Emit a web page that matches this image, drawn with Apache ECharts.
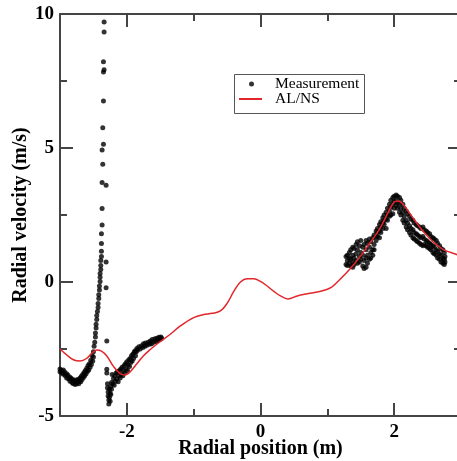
<!DOCTYPE html>
<html>
<head>
<meta charset="utf-8">
<script src="https://cdn.jsdelivr.net/npm/echarts@6/dist/echarts.min.js"></script>
<style>
html, body { margin: 0; padding: 0; background: #fff; }
#main { width: 457px; height: 461px; }
</style>
</head>
<body>
<div id="main"></div>
<script type="text/javascript">
// measured points, [radial position (m), radial velocity (m/s)]
var measTrough = [
    [-3.0,-3.25],[-3.0,-3.35],[-2.98,-3.3],[-2.97,-3.4],[-2.95,-3.28],[-2.95,-3.44],[-2.93,-3.36],[-2.92,-3.5],
    [-2.9,-3.42],[-2.9,-3.58],[-2.88,-3.48],[-2.87,-3.62],[-2.85,-3.55],[-2.85,-3.7],[-2.83,-3.6],[-2.82,-3.75],
    [-2.8,-3.65],[-2.8,-3.8],[-2.78,-3.7],[-2.77,-3.82],[-2.76,-3.66],[-2.75,-3.78],[-2.73,-3.64],[-2.72,-3.8],
    [-2.71,-3.7],[-2.7,-3.58],[-2.69,-3.72],[-2.68,-3.52],[-2.67,-3.64],[-2.66,-3.45],[-2.65,-3.56],[-2.64,-3.38],
    [-2.63,-3.5],[-2.62,-3.3],[-2.61,-3.42],[-2.6,-3.22],[-2.59,-3.34],[-2.58,-3.12],[-2.57,-3.28],[-2.56,-3.05],
    [-2.55,-3.18],[-2.54,-2.92],[-2.53,-3.08],[-2.52,-2.75],[-2.51,-2.95],[-2.5,-2.6],[-2.5,-2.8]
];
var measSpike = [
    [-2.49,-2.4],[-2.48,-2.25],[-2.47,-2.05],[-2.47,-1.9],[-2.46,-1.72],[-2.46,-1.58],[-2.45,-1.4],[-2.45,-1.25],
    [-2.44,-1.1],[-2.43,-0.95],[-2.43,-0.8],[-2.42,-0.62],[-2.42,-0.48],[-2.41,-0.3],[-2.41,-0.15],[-2.4,0.02],
    [-2.4,0.18],[-2.4,0.32],[-2.39,0.47],[-2.39,0.62],[-2.39,0.8],[-2.38,0.95],[-2.38,1.15],[-2.38,1.44],
    [-2.38,1.8],[-2.37,2.13],[-2.37,2.74],[-2.37,3.71],[-2.36,4.39],[-2.37,4.93],[-2.35,5.14],[-2.36,5.76],
    [-2.35,6.75],[-2.35,7.84],[-2.34,7.92],[-2.35,8.22],[-2.34,9.33],[-2.34,9.7],
    [-2.31,3.61],[-2.31,0.75],[-2.31,-0.21],[-2.3,-2.2]
];
var measDip = [
    [-2.3,-3.26],[-2.3,-3.4],[-2.29,-3.8],[-2.29,-3.95],[-2.28,-4.1],[-2.28,-4.25],[-2.27,-4.4],[-2.27,-4.55],
    [-2.26,-4.3],[-2.26,-4.0],[-2.25,-4.45],[-2.25,-4.15],[-2.24,-3.9],[-2.24,-4.2],[-2.23,-3.75],[-2.23,-4.0],
    [-2.22,-3.45],[-2.21,-3.8],[-2.2,-3.6],[-2.19,-3.85],[-2.18,-3.5],[-2.17,-3.7],[-2.16,-3.4],[-2.15,-3.62],
    [-2.14,-3.35],[-2.13,-3.72],[-2.12,-3.5],[-2.11,-3.3],[-2.1,-3.58],[-2.09,-3.25],[-2.08,-3.45],[-2.07,-3.18],
    [-2.06,-3.5],[-2.05,-3.3],[-2.04,-3.12],[-2.03,-3.4],[-2.02,-3.05],[-2.01,-3.25],[-2.0,-2.98],[-1.99,-3.3],
    [-1.98,-3.1],[-1.97,-2.9],[-1.96,-3.15],[-1.95,-2.85],[-1.94,-3.0],[-1.93,-2.75],[-1.92,-2.95],[-1.91,-2.7],
    [-1.9,-2.85],[-1.89,-2.62],[-1.88,-2.57],[-1.87,-2.75],[-1.86,-2.6],[-1.85,-2.48],[-1.84,-2.55],[-1.82,-2.42],
    [-1.8,-2.5],[-1.78,-2.38],[-1.76,-2.44],[-1.75,-2.3],[-1.73,-2.4],[-1.72,-2.28],[-1.7,-2.36],[-1.68,-2.25],
    [-1.66,-2.32],[-1.65,-2.2],[-1.63,-2.3],[-1.62,-2.15],[-1.6,-2.25],[-1.58,-2.12],[-1.56,-2.22],[-1.55,-2.1],
    [-1.53,-2.18],[-1.52,-2.06],[-1.5,-2.14],[-1.49,-2.05],[-1.48,-2.1]
];
var measPeak = [
    [1.28,0.65],[1.28,0.95],[1.3,0.8],[1.3,1.0],[1.3,0.62],[1.33,0.7],[1.33,1.1],[1.33,0.9],
    [1.35,0.6],[1.35,1.2],[1.35,0.85],[1.38,0.75],[1.38,1.3],[1.38,1.0],[1.38,0.55],[1.4,0.9],
    [1.4,1.25],[1.4,0.65],[1.43,1.05],[1.43,1.4],[1.43,0.8],[1.45,0.7],[1.45,1.2],[1.45,1.5],
    [1.48,0.95],[1.48,1.35],[1.48,0.75],[1.5,1.1],[1.5,1.55],[1.5,0.85],[1.53,0.6],[1.53,1.3],
    [1.53,1.0],[1.55,0.5],[1.55,1.4],[1.55,0.8],[1.58,0.55],[1.58,1.2],[1.58,0.9],[1.58,1.55],
    [1.6,0.7],[1.6,1.45],[1.6,1.0],[1.63,0.85],[1.63,1.3],[1.63,1.6],[1.65,1.1],[1.65,1.5],
    [1.65,0.9],[1.68,1.2],[1.68,1.65],[1.68,1.0],[1.7,1.4],[1.7,1.75],[1.7,1.2],[1.73,1.55],
    [1.73,1.9],[1.73,1.7],[1.75,1.7],[1.75,2.0],[1.75,1.85],[1.78,1.65],[1.78,2.15],[1.78,1.9],
    [1.8,1.85],[1.8,2.25],[1.8,2.05],[1.83,2.0],[1.83,2.4],[1.83,2.2],[1.85,2.15],[1.85,2.5],
    [1.85,2.3],[1.88,2.0],[1.88,2.6],[1.88,2.35],[1.9,2.3],[1.9,2.75],[1.9,2.5],[1.93,2.45],
    [1.93,2.9],[1.93,2.65],[1.95,2.5],[1.95,3.05],[1.95,2.8],[1.98,2.55],[1.98,3.15],[1.98,2.9],
    [2.0,2.75],[2.0,3.2],[2.0,3.0],[2.03,2.85],[2.03,3.25],[2.03,3.05],[2.05,2.75],[2.05,3.2],
    [2.05,2.95],[2.08,2.6],[2.08,3.15],[2.08,2.9],[2.1,2.5],[2.1,3.05],[2.1,2.75],[2.13,2.3],
    [2.13,2.9],[2.13,2.6],[2.15,2.2],[2.15,2.75],[2.15,2.45],[2.18,2.05],[2.18,2.65],[2.18,2.3],
    [2.2,1.95],[2.2,2.55],[2.2,2.2],[2.23,1.85],[2.23,2.45],[2.23,2.1],[2.25,1.75],[2.25,2.35],
    [2.25,2.0],[2.28,1.65],[2.28,2.3],[2.28,1.95],[2.3,1.6],[2.3,2.2],[2.3,1.85],[2.33,1.55],
    [2.33,2.15],[2.33,1.8],[2.35,1.5],[2.35,2.1],[2.35,1.75],[2.38,1.45],[2.38,2.05],[2.38,1.7],
    [2.4,1.4],[2.4,2.0],[2.4,1.65],[2.43,1.35],[2.43,2.05],[2.43,1.7],[2.45,1.4],[2.45,1.95],
    [2.45,1.6],[2.48,1.35],[2.48,1.9],[2.48,1.55],[2.5,1.3],[2.5,1.85],[2.5,1.5],[2.53,1.25],
    [2.53,1.8],[2.53,1.45],[2.55,1.2],[2.55,1.7],[2.55,1.4],[2.58,1.1],[2.58,1.65],[2.58,1.35],
    [2.6,1.05],[2.6,1.6],[2.6,1.3],[2.63,1.0],[2.63,1.55],[2.63,1.2],[2.65,0.9],[2.65,1.45],
    [2.65,1.15],[2.68,0.85],[2.68,1.35],[2.68,1.05],[2.7,0.75],[2.7,1.25],[2.7,1.0],[2.73,0.7],
    [2.73,1.2],[2.73,0.9],[2.75,0.65],[2.75,1.1],[2.75,0.85],[2.76,0.75],[2.76,0.95]
];
// AL/NS model curve
var alnsCurve = [
    [-3.0,-2.5],[-2.9,-2.72],[-2.8,-2.9],[-2.7,-2.95],[-2.6,-2.85],[-2.52,-2.65],[-2.45,-2.54],[-2.38,-2.58],
    [-2.3,-2.76],[-2.2,-3.15],[-2.1,-3.42],[-2.03,-3.47],[-1.95,-3.35],[-1.85,-3.05],[-1.75,-2.75],[-1.65,-2.52],
    [-1.5,-2.22],[-1.35,-1.95],[-1.2,-1.64],[-1.0,-1.33],[-0.86,-1.22],[-0.72,-1.17],[-0.6,-1.08],[-0.5,-0.8],
    [-0.4,-0.35],[-0.3,0.0],[-0.2,0.12],[-0.1,0.12],[0.0,0.02],[0.1,-0.15],[0.2,-0.35],[0.3,-0.52],
    [0.41,-0.63],[0.55,-0.52],[0.7,-0.44],[0.93,-0.33],[1.06,-0.2],[1.15,0.0],[1.25,0.25],[1.4,0.66],
    [1.53,1.08],[1.65,1.5],[1.78,1.97],[1.9,2.55],[1.98,2.92],[2.04,3.02],[2.1,2.98],[2.2,2.68],
    [2.33,2.22],[2.45,1.85],[2.58,1.5],[2.73,1.22],[2.85,1.1],[3.0,0.97]
];
var xLabelValues = [-2, 0, 2];

var serif = 'Liberation Serif';
var axisColor = '#444';
var measurement = measTrough.concat(measSpike, measDip, measPeak);

function xAxisCfg(pos, major, showLabel) {
    return {
        type: 'value', position: pos, min: -3, max: 3, interval: 1,
        axisLine: { show: !major, onZero: false, lineStyle: { color: axisColor, width: 2 } },
        axisTick: major
            ? { inside: true, length: 13, customValues: xLabelValues, lineStyle: { color: axisColor, width: 2 } }
            : { inside: true, length: 7, lineStyle: { color: axisColor, width: 2 } },
        axisLabel: showLabel
            ? { customValues: xLabelValues, margin: 7, color: '#000', fontFamily: serif, fontWeight: 'bold', fontSize: 19 }
            : { show: false },
        splitLine: { show: false }
    };
}
function yAxisCfg(pos, showLabel) {
    return {
        type: 'value', position: pos, min: -5, max: 10, interval: 5,
        axisLine: { show: true, onZero: false, lineStyle: { color: axisColor, width: 2 } },
        axisTick: { inside: true, length: 13, lineStyle: { color: axisColor, width: 2 } },
        minorTick: { show: true, splitNumber: 2, length: 7, lineStyle: { color: axisColor, width: 2 } },
        axisLabel: showLabel
            ? { margin: 6, color: '#000', fontFamily: serif, fontWeight: 'bold', fontSize: 19 }
            : { show: false },
        splitLine: { show: false },
        minorSplitLine: { show: false }
    };
}

var xBottom = xAxisCfg('bottom', false, true);
xBottom.name = 'Radial position (m)';
xBottom.nameLocation = 'middle';
xBottom.nameGap = 23;
xBottom.nameMoveOverlap = false;
xBottom.nameTextStyle = { color: '#000', fontFamily: serif, fontWeight: 'bold', fontSize: 20 };

var yLeft = yAxisCfg('left', true);
yLeft.name = 'Radial velocity (m/s)';
yLeft.nameLocation = 'middle';
yLeft.nameGap = 29;
yLeft.nameMoveOverlap = false;
yLeft.nameTextStyle = { color: '#000', fontFamily: serif, fontWeight: 'bold', fontSize: 20 };

var myChart = echarts.init(document.getElementById('main'));
myChart.setOption({
    backgroundColor: '#fff',
    animation: false,
    grid: { left: 60, top: 14, right: -4, bottom: 45, outerBoundsMode: 'none' },
    xAxis: [
        xBottom,
        xAxisCfg('bottom', true, false),
        xAxisCfg('top', false, false),
        xAxisCfg('top', true, false)
    ],
    yAxis: [yLeft, yAxisCfg('right', false)],
    legend: [
        {
            data: [{ name: 'Measurement', icon: 'circle' }],
            left: 249, top: 76, padding: 0, itemWidth: 5, itemHeight: 5,
            textStyle: { color: '#000', fontFamily: serif, fontSize: 15.5, padding: [0, 0, 0, 16] }
        },
        {
            data: [{ name: 'AL/NS', icon: 'rect' }],
            left: 239, top: 91, padding: 0, itemWidth: 23, itemHeight: 2,
            textStyle: { color: '#000', fontFamily: serif, fontSize: 15.5, padding: [0, 0, 0, 8] }
        }
    ],
    graphic: [{
        type: 'rect', left: 232, top: 72, silent: true,
        shape: { width: 130, height: 39 },
        style: { fill: 'none', stroke: '#555', lineWidth: 1 }
    }],
    series: [
        {
            name: 'Measurement', type: 'scatter', symbol: 'circle', symbolSize: 5,
            itemStyle: { color: '#000' },
            data: measurement
        },
        {
            name: 'AL/NS', type: 'line', smooth: 0.4, symbol: 'none', showSymbol: false,
            lineStyle: { color: '#e3262b', width: 1.5 },
            itemStyle: { color: '#e3262b' },
            data: alnsCurve
        }
    ]
});
</script>
</body>
</html>
